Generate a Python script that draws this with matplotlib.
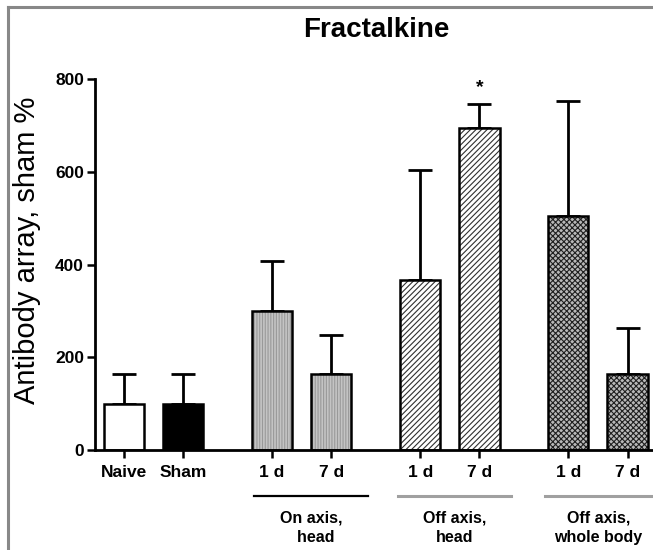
import numpy as np
import matplotlib.pyplot as plt
from matplotlib.lines import Line2D
import matplotlib.transforms as mtransforms

plt.rcParams['font.family'] = ['Liberation Sans', 'DejaVu Sans']

# values
labels = ['Naive', 'Sham', '1 d', '7 d', '1 d', '7 d', '1 d', '7 d']
positions = [0, 1, 2.5, 3.5, 5, 6, 7.5, 8.5]
means = [100, 100, 300, 165, 367, 696, 505, 164]
sem_up = [65, 65, 108, 84, 237, 50, 249, 99]
groups = ['On axis,\n  head', 'Off axis,\nhead', 'Off axis,\nwhole body']
group_spans = [(2.19, 4.12), (4.63, 6.54), (7.1, 8.92)]
group_line_colors = ['black', '#a0a0a0', '#a0a0a0']

fills = ['white', 'black', '#c4c4c4', '#c4c4c4', 'white', 'white', '#b8b8b8', '#b8b8b8']
hatches = [None, None, '||||||', '||||||', '//////', '//////', 'xxxxxx', 'xxxxxx']
hatch_cols = ['black', 'black', '#999999', '#999999', '#303030', '#303030', '#202020', '#202020']

fig = plt.figure(figsize=(6.53, 5.5), dpi=100)
ax = fig.add_axes([0.1455, 0.1818, 0.8545, 0.674])
plt.rcParams['hatch.linewidth'] = 0.8

w = 0.68
for x, m, fc, h, hc in zip(positions, means, fills, hatches, hatch_cols):
    ax.bar(x, m, w, color=fc, hatch=h, edgecolor=hc, linewidth=0, zorder=2)
    ax.bar(x, m, w, color='none', edgecolor='black', linewidth=1.8, zorder=3)

ax.errorbar(positions, means, yerr=[np.zeros(len(means)), sem_up], fmt='none',
            ecolor='black', elinewidth=2.0, capsize=8.5, capthick=2.0, zorder=1)

# asterisk
ax.text(positions[5], means[5] + sem_up[5] + 18, '*', ha='center', va='bottom',
        fontsize=14, fontweight='bold')

ax.set_xlim(-0.49, 8.93)
ax.set_ylim(0, 800)
ax.set_yticks([0, 200, 400, 600, 800])
ax.set_xticks(positions)
ax.set_xticklabels(labels, fontweight='bold', fontsize=12.5)
for t in ax.get_yticklabels():
    t.set_fontweight('bold')
    t.set_fontsize(12.5)
ax.tick_params(axis='both', width=1.8, length=6, direction='out')
ax.tick_params(axis='x', pad=5)
ax.tick_params(axis='y', pad=2)
for s in ['top', 'right']:
    ax.spines[s].set_visible(False)
for s in ['left', 'bottom']:
    ax.spines[s].set_linewidth(2.0)
ax.spines['bottom'].set_bounds(-0.49, 8.93)

trans = mtransforms.blended_transform_factory(ax.transData, ax.transAxes)
for (x0, x1), g, c in zip(group_spans, groups, group_line_colors):
    ax.plot([x0, x1], [-0.124, -0.124], color=c, lw=1.6 if c == 'black' else 2.2,
            transform=trans, clip_on=False)
    ax.text((x0 + x1) / 2, -0.163, g, transform=trans, ha='center', va='top',
            fontsize=11.5, fontweight='bold', linespacing=1.4)

fig.text(0.576, 0.945, 'Fractalkine', ha='center', va='center', fontsize=20,
         fontweight='bold')
fig.text(0.042, 0.545, 'Antibody array, sham %', rotation=90, ha='center',
         va='center', fontsize=21)

# grey frame of the original figure
fig.add_artist(Line2D([0.013, 1.0], [0.987, 0.987], color='#888888', lw=2.2))
fig.add_artist(Line2D([0.013, 0.013], [0.0, 0.987], color='#888888', lw=2.2))

fig.savefig('out.png', dpi=100)
